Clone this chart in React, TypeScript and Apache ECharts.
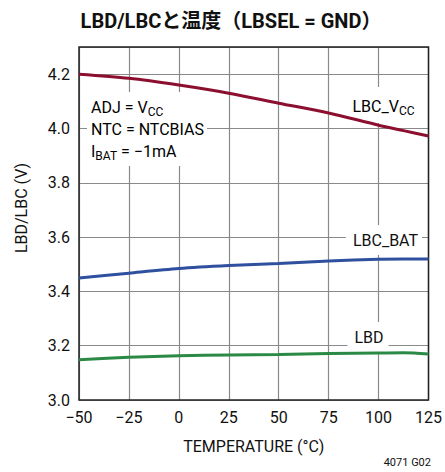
import React, { useEffect, useRef } from "react";
import * as echarts from "echarts";

// Temperature sweep (°C) shared by the three curves
const temps = [-50, -25, 0, 25, 50, 75, 100, 112.5, 125];

// Threshold voltages (V)
const lbcVcc = [4.2, 4.185, 4.16, 4.13, 4.093, 4.057, 4.012, 3.992, 3.972];
const lbcBat = [3.449, 3.467, 3.484, 3.495, 3.503, 3.512, 3.518, 3.519, 3.519];
const lbd = [3.148, 3.157, 3.163, 3.166, 3.168, 3.171, 3.173, 3.174, 3.169];

const xTicks = [-50, -25, 0, 25, 50, 75, 100, 125];
const yTicks = [3.0, 3.2, 3.4, 3.6, 3.8, 4.0, 4.2];

const FONT = "Roboto, 'Noto Sans CJK JP', sans-serif";
const TITLE_FONT = "Roboto, 'Noto Sans CJK JP', sans-serif";

const pairs = (ys: number[]) => temps.map((t, i) => [t, ys[i]]);

const subRich = {
  m: { fontSize: 16, fontFamily: FONT, color: "#111", lineHeight: 22 },
  s: { fontSize: 12, fontFamily: FONT, color: "#111", lineHeight: 22, verticalAlign: "bottom" },
};

export default function App() {
  const ref = useRef<HTMLDivElement>(null);

  useEffect(() => {
    if (!ref.current) return;
    const chart = echarts.init(ref.current, undefined, { renderer: "svg" });
    const plotLeft = 79;
    const plotTop = 47;
    const plotW = 352;
    const plotH = 353;

    chart.setOption({
      animation: false,
      backgroundColor: "#fff",
      title: {
        text: "LBD/LBCと温度（LBSEL = GND）",
        left: 226,
        top: 6,
        textAlign: "center",
        textStyle: { fontFamily: TITLE_FONT, fontWeight: "bold", fontSize: 20, color: "#111" },
      },
      grid: {
        left: plotLeft,
        top: plotTop,
        width: plotW,
        height: plotH,
        show: true,
        borderColor: "#222",
        borderWidth: 1.5,
        backgroundColor: "transparent",
        z: 3,
      },
      xAxis: {
        type: "value",
        min: xTicks[0],
        max: xTicks[xTicks.length - 1],
        interval: 25,
        axisLine: { show: false },
        axisTick: { show: false },
        splitLine: { show: true, lineStyle: { color: "#8a8a8a", width: 1.2 } },
        axisLabel: {
          fontFamily: FONT,
          fontSize: 16,
          color: "#111",
          margin: 9,
          formatter: (v: number) => (v < 0 ? "\u2212" + Math.abs(v) : String(v)),
        },
        name: "TEMPERATURE (°C)",
        nameLocation: "middle",
        nameGap: 38,
        nameTextStyle: { fontFamily: FONT, fontSize: 16, color: "#111" },
      },
      yAxis: {
        type: "value",
        min: yTicks[0],
        max: 4.3,
        interval: 0.2,
        axisLine: { show: false },
        axisTick: { show: false },
        splitLine: { show: true, lineStyle: { color: "#8a8a8a", width: 1.2 } },
        axisLabel: {
          fontFamily: FONT,
          fontSize: 16,
          color: "#111",
          margin: 9,
          showMaxLabel: false,
          formatter: (v: number) => v.toFixed(1),
        },
      },
      graphic: [
        {
          type: "text",
          rotation: Math.PI / 2,
          x: 21,
          y: 208,
          style: {
            text: "LBD/LBC (V)",
            fontFamily: FONT,
            fontSize: 16,
            fill: "#111",
            align: "center",
            verticalAlign: "middle",
          },
        },
        {
          type: "text",
          x: 431,
          y: 462,
          style: {
            text: "4071 G02",
            fontFamily: FONT,
            fontSize: 11,
            fill: "#111",
            align: "right",
            verticalAlign: "middle",
          },
        },
        {
          type: "text",
          x: 87,
          y: 92,
          z: 1,
          style: {
            text: "{m|ADJ = V}{s|CC}\n{m|NTC = NTCBIAS}\n{m|I}{s|BAT}{m| = \u22121mA}",
            rich: subRich,
            backgroundColor: "#fff",
            padding: [4, 3, 4, 4],
            align: "left",
            verticalAlign: "top",
          },
        },
        {
          type: "text",
          x: 383,
          y: 105,
          z: 1,
          style: {
            text: "{m|LBC_V}{s|CC}",
            rich: subRich,
            backgroundColor: "#fff",
            padding: [8, 5, 6, 6],
            align: "center",
            verticalAlign: "middle",
          },
        },
        {
          type: "text",
          x: 384,
          y: 240,
          z: 1,
          style: {
            text: "LBC_BAT",
            fontFamily: FONT,
            fontSize: 16,
            fill: "#111",
            backgroundColor: "#fff",
            padding: [7, 4, 7, 7],
            align: "center",
            verticalAlign: "middle",
          },
        },
        {
          type: "text",
          x: 368,
          y: 337,
          z: 1,
          style: {
            text: "LBD",
            fontFamily: FONT,
            fontSize: 16,
            fill: "#111",
            backgroundColor: "#fff",
            padding: [7, 5, 7, 7],
            align: "center",
            verticalAlign: "middle",
          },
        },
      ],
      series: [
        {
          name: "LBC_VCC",
          type: "line",
          data: pairs(lbcVcc),
          smooth: 0.3,
          showSymbol: false,
          z: 4,
          lineStyle: { color: "#8c0f30", width: 3 },
        },
        {
          name: "LBC_BAT",
          type: "line",
          data: pairs(lbcBat),
          smooth: 0.3,
          showSymbol: false,
          z: 4,
          lineStyle: { color: "#2f4f9f", width: 3 },
        },
        {
          name: "LBD",
          type: "line",
          data: pairs(lbd),
          smooth: 0.3,
          showSymbol: false,
          z: 4,
          lineStyle: { color: "#2a8a45", width: 3 },
        },
      ],
    });
    return () => chart.dispose();
  }, []);

  return <div ref={ref} style={{ width: 445, height: 472, position: "absolute", left: 0, top: 0 }} />;
}
